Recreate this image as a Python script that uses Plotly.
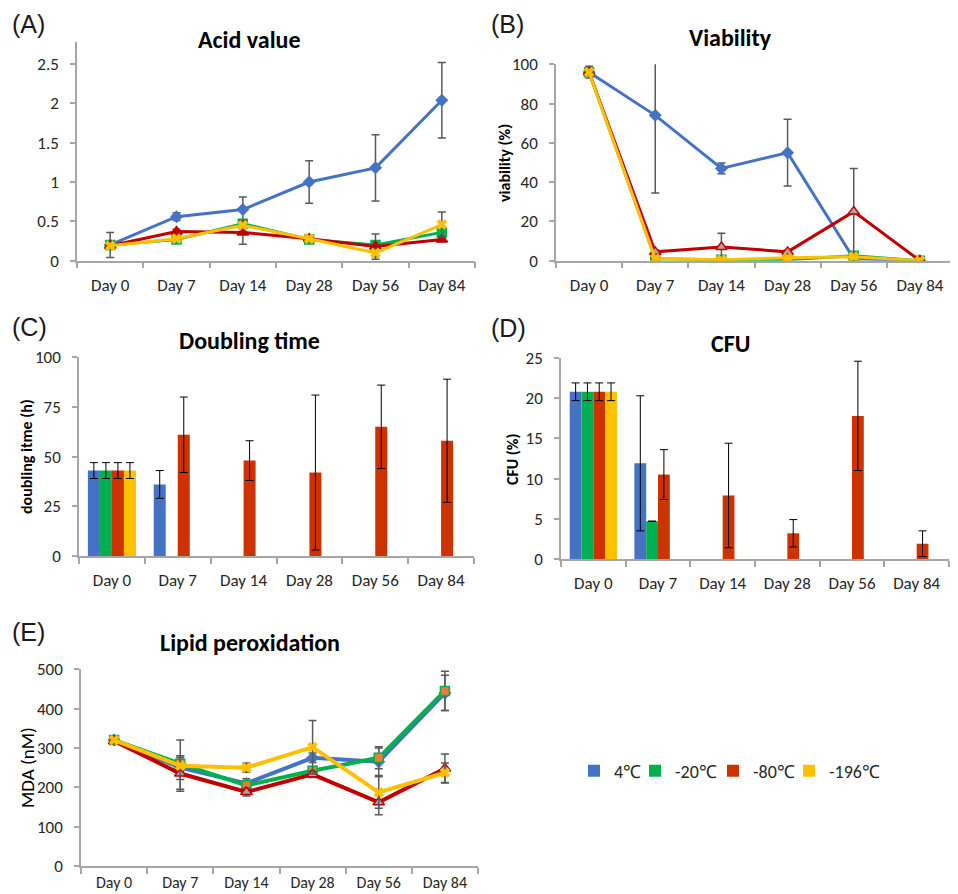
import plotly.graph_objects as go

W, H = 958, 894
OFF = 8  # page body margin of the browser

days = ["Day 0", "Day 7", "Day 14", "Day 28", "Day 56", "Day 84"]
series_names = ["4℃", "-20℃", "-80℃", "-196℃"]

# (A) Acid value
acid_4 = [0.20, 0.56, 0.65, 1.00, 1.18, 2.04]
acid_20 = [0.20, 0.27, 0.47, 0.27, 0.20, 0.36]
acid_80 = [0.19, 0.37, 0.36, 0.28, 0.18, 0.27]
acid_196 = [0.19, 0.28, 0.45, 0.28, 0.10, 0.46]
acid_4_err = [0.16, 0.05, 0.16, 0.27, 0.42, 0.48]
acid_20_err = [0.02, 0.03, 0.04, 0.02, 0.05, 0.05]
acid_80_err = [0.03, 0.03, 0.15, 0.02, 0.16, 0.03]
acid_196_err = [0.02, 0.03, 0.04, 0.02, 0.05, 0.16]

# (B) Viability (%)
via_4 = [96, 74, 47, 55, 1, 0]
via_20 = [96, 1, 0.5, 0.5, 2.5, 0]
via_80 = [96, 4.5, 7, 4.5, 25, 0]
via_196 = [96, 1, 0.5, 1.5, 2, 0]
via_4_err = [3, 39.5, 2.7, 17, 1, None]
via_20_err = [1, 0.5, 0.5, 0.5, 0.5, None]
via_80_err = [1, 1, 7, 1, 22, None]
via_196_err = [1, 0.5, 0.5, 0.5, 0.5, None]

# (C) Doubling time (h)
dbl_4 = [43, 36, None, None, None, None]
dbl_20 = [43, None, None, None, None, None]
dbl_80 = [43, 61, 48, 42, 65, 58]
dbl_196 = [43, None, None, None, None, None]
dbl_4_err = [4, 7, None, None, None, None]
dbl_20_err = [4, None, None, None, None, None]
dbl_80_err = [4, 19, 10, 39, 21, 31]
dbl_196_err = [4, None, None, None, None, None]

# (D) CFU (%)
cfu_4 = [20.8, 11.9, None, None, None, None]
cfu_20 = [20.8, 4.7, None, None, None, None]
cfu_80 = [20.8, 10.5, 7.9, 3.2, 17.8, 1.9]
cfu_196 = [20.8, None, None, None, None, None]
cfu_4_err = [1.1, 8.4, None, None, None, None]
cfu_20_err = [1.1, None, None, None, None, None]
cfu_80_err = [1.1, 3.1, 6.5, 1.7, 6.8, 1.6]
cfu_196_err = [1.1, None, None, None, None, None]

# (E) Lipid peroxidation, MDA (nM)
mda_4 = [320, 250, 210, 275, 265, 440]
mda_20 = [320, 260, 205, 242, 275, 445]
mda_80 = [318, 235, 188, 233, 162, 248]
mda_196 = [320, 255, 250, 302, 187, 237]
mda_4_err = [5, 30, 12, 12, 35, 45]
mda_20_err = [5, 20, 12, 10, 28, 50]
mda_80_err = [5, 40, 10, 8, 32, 37]
mda_196_err = [5, 65, 12, 68, 40, 25]

BLUE, GREEN, RED, YELLOW = "#4472C4", "#00B050", "#C00000", "#FFC000"
BAR_RED = "#CC3300"
ORANGE, GRAY = "#ED7D31", "#A5A5A5"
FONT = "Carlito, Lato, Liberation Sans, sans-serif"

def px(x):
    return (x - OFF) / W

def py(y):
    return 1 - (y - OFF) / H

fig = go.Figure()

def err(arr, color="#595959", th=1.5):
    return dict(type="data", array=arr, color=color, thickness=th, width=4, visible=True)

def line_panel(ax, vals, errs, alt_markers, lw):
    xa, ya = ax
    styles = [
        dict(color=BLUE, marker=dict(symbol="diamond", size=10, color=BLUE)),
        dict(color=GREEN, marker=dict(symbol="square", size=9,
                                      color=(ORANGE if alt_markers else GREEN),
                                      line=dict(color=GREEN, width=1.5))),
        dict(color=RED, marker=dict(symbol="triangle-up", size=10,
                                    color=(GRAY if alt_markers else RED),
                                    line=dict(color=RED, width=1.5))),
        dict(color=YELLOW, marker=dict(symbol="x", size=9, color=YELLOW,
                                       line=dict(color=YELLOW, width=0.5))),
    ]
    for v, e, s, n in zip(vals, errs, styles, series_names):
        fig.add_trace(go.Scatter(
            x=days, y=v, xaxis=xa, yaxis=ya, mode="lines+markers", name=n,
            line=dict(color=s["color"], width=lw), marker=s["marker"],
            error_y=err(e), showlegend=False, cliponaxis=True))

def bar_panel(ax, vals, errs, legend):
    xa, ya = ax
    colors = [BLUE, GREEN, BAR_RED, YELLOW]
    legends = ["legend", "legend2", "legend3", "legend4"]
    for v, e, c, n, lg in zip(vals, errs, colors, series_names, legends):
        fig.add_trace(go.Bar(
            x=days, y=v, xaxis=xa, yaxis=ya, name=n, marker=dict(color=c, line=dict(width=0)),
            error_y=err(e, color="#000000", th=1), showlegend=legend, legend=lg))

line_panel(("x", "y"), [acid_4, acid_20, acid_80, acid_196],
           [acid_4_err, acid_20_err, acid_80_err, acid_196_err], False, 3)
line_panel(("x2", "y2"), [via_4, via_20, via_80, via_196],
           [via_4_err, via_20_err, via_80_err, via_196_err], True, 3)
bar_panel(("x3", "y3"), [dbl_4, dbl_20, dbl_80, dbl_196],
          [dbl_4_err, dbl_20_err, dbl_80_err, dbl_196_err], True)
bar_panel(("x4", "y4"), [cfu_4, cfu_20, cfu_80, cfu_196],
          [cfu_4_err, cfu_20_err, cfu_80_err, cfu_196_err], False)
line_panel(("x5", "y5"), [mda_4, mda_20, mda_80, mda_196],
           [mda_4_err, mda_20_err, mda_80_err, mda_196_err], True, 4)

AXC = "#A6A6A6"

def tickfont(size=17):
    return dict(family=FONT, size=size, color="#262626")

def xaxis(x0, x1, anchor, standoff=8, size=17):
    return dict(domain=[px(x0), px(x1)], anchor=anchor, type="category",
                range=[-0.5, 5.5], showline=True, linecolor=AXC, linewidth=1.5,
                ticks="outside", tickson="boundaries", ticklen=6, tickcolor=AXC,
                tickwidth=1.5, showgrid=False, zeroline=False, automargin=False,
                ticklabelstandoff=standoff, tickfont=tickfont(size), fixedrange=True)

def yaxis(top, bottom, anchor, rng, dtick):
    return dict(domain=[py(bottom), py(top)], anchor=anchor, range=rng,
                tickmode="linear", tick0=0, dtick=dtick,
                showline=True, linecolor=AXC, linewidth=1.5,
                ticks="outside", ticklen=5, tickcolor=AXC, tickwidth=1.5,
                showgrid=False, zeroline=False, automargin=False,
                ticklabelstandoff=8, tickfont=tickfont(), fixedrange=True)

def legend_at(x):
    return dict(orientation="h", x=px(x), y=py(771), xanchor="left", yanchor="middle",
                font=dict(family=FONT, size=18, color="#262626"),
                itemwidth=30, bgcolor="rgba(0,0,0,0)", borderwidth=0)

fig.update_layout(
    width=W, height=H, margin=dict(l=0, r=0, t=0, b=0, autoexpand=False),
    paper_bgcolor="white", plot_bgcolor="white",
    barmode="group", bargap=0.27, bargroupgap=0,
    xaxis=xaxis(77, 475, "y"), yaxis=yaxis(42, 260.7, "x", [0, 2.78], 0.5),
    xaxis2=xaxis(556, 953, "y2"), yaxis2=yaxis(64.3, 260.7, "x2", [0, 100], 20),
    xaxis3=xaxis(79, 474, "y3"), yaxis3=yaxis(357.3, 556, "x3", [0, 100], 25),
    xaxis4=xaxis(561, 949, "y4"), yaxis4=yaxis(358, 559, "x4", [0, 25], 5),
    xaxis5=xaxis(81, 478, "y5", 1, 16), yaxis5=yaxis(669.3, 866, "x5", [0, 500], 100),
    legend=legend_at(574), legend2=legend_at(635), legend3=legend_at(713), legend4=legend_at(789),
    showlegend=True,
)

annots = []
# panel letters
for t, x, y in [("(A)", 10, 24), ("(B)", 489, 24), ("(C)", 10, 327),
                ("(D)", 489, 328), ("(E)", 10, 632)]:
    annots.append(dict(text=t, x=px(x), y=py(y), xref="paper", yref="paper",
                       xanchor="left", yanchor="middle", showarrow=False,
                       font=dict(family="Liberation Sans, Arial", size=25, color="#1a1a1a")))
# panel titles
for t, x, y in [("Acid value", 250, 40), ("Viability", 730, 38), ("Doubling time", 250, 340),
                ("CFU", 730, 343), ("Lipid peroxidation", 250, 642)]:
    annots.append(dict(text="<b>" + t + "</b>", x=px(x), y=py(y), xref="paper", yref="paper",
                       xanchor="center", yanchor="middle", showarrow=False,
                       font=dict(family=FONT, size=24, color="#000000")))
# y-axis titles
for t, x, y, bold in [("viability (%)", 505, 163, True), ("doubling itme (h)", 26, 457, True),
                      ("CFU (%)", 513, 459, True), ("MDA (nM)", 27, 768, False)]:
    annots.append(dict(text=("<b>" + t + "</b>") if bold else t, x=px(x), y=py(y),
                       xref="paper", yref="paper", xanchor="center", yanchor="middle",
                       textangle=-90, showarrow=False,
                       font=dict(family=FONT, size=16 if bold else 19, color="#000000")))
fig.update_layout(annotations=annots)

fig.write_html("out.html")
